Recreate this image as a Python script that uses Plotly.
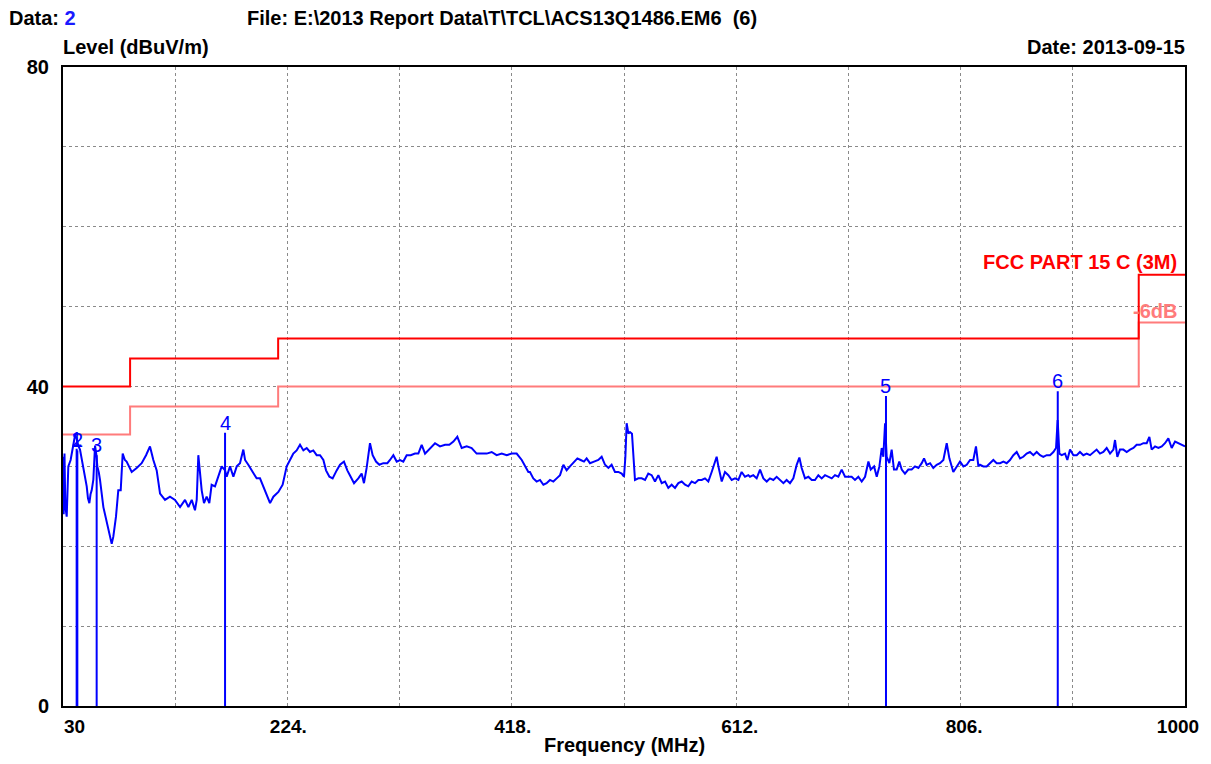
import plotly.graph_objects as go

# ---------------- data ----------------
freq_mhz = [
    30.0, 30.6, 31.3, 32.0, 33.2, 34.6, 36.6, 38.5, 40.4, 41.8, 43.2, 44.7, 46.2, 47.6, 49.0, 50.5,
    51.6, 52.8, 53.8, 54.8, 56.2, 57.7, 58.8, 59.7, 61.0, 62.0, 64.9, 67.8, 70.6, 72.1, 73.5, 75.8,
    77.8, 79.9, 81.6, 83.5, 85.0, 89.4, 93.7, 98.0, 101.8, 105.2, 108.1, 111.0, 113.9, 118.2, 122.5,
    126.8, 131.2, 135.5, 138.4, 141.3, 144.1, 145.6, 147.0, 148.5, 149.9, 151.9, 154.2, 156.5, 158.5,
    161.4, 164.3, 167.2, 170.1, 171.5, 174.4, 177.3, 180.2, 183.0, 185.9, 187.4, 190.2, 193.1, 197.4,
    200.3, 204.7, 209.0, 211.9, 216.2, 219.9, 223.4, 227.7,
    229.1, 232.0, 234.9, 237.8, 240.7, 243.5, 246.4, 249.3, 252.2, 255.1, 257.4, 260.3, 263.1, 266.6,
    269.5, 272.9, 275.8, 278.7, 281.6, 285.3, 288.2, 290.2, 292.5, 295.4, 297.7, 300.6, 303.5, 306.9,
    310.4, 312.7, 315.6, 318.5, 321.4, 324.2, 327.1, 330.6, 334.3, 337.2, 340.1, 343.0, 347.3, 351.6,
    355.9, 360.3, 364.0, 367.5, 370.9, 374.7, 379.0, 383.3, 387.6, 392.0, 396.3, 400.6, 404.9, 409.3,
    413.6, 417.9, 422.2, 426.6, 429.4, 432.3,
    433.7, 436.6, 439.5, 442.4, 445.3, 448.1, 451.0, 453.9, 456.8, 459.7, 462.6, 465.4, 468.3, 471.2,
    474.7, 477.5, 480.4, 482.7, 485.6, 489.1, 492.8, 495.7, 498.6, 501.5, 504.3, 507.2, 510.1, 513.0,
    515.0, 516.2, 517.3, 518.8, 520.2, 521.9, 523.1, 524.5, 527.4, 530.3, 533.2, 536.0, 538.9, 541.8,
    544.7, 547.6, 550.5, 553.3, 556.2, 559.1, 562.0, 564.9, 567.8, 570.6, 573.5, 576.4, 579.3, 582.2,
    585.0, 587.9, 590.8, 593.7, 595.1, 596.6, 599.5, 602.3, 605.2, 608.1, 611.0, 613.9, 616.7, 619.6,
    622.5,
    623.9, 626.8, 629.7, 632.6, 635.5, 638.4, 641.2, 644.1, 647.0, 649.9, 652.8, 655.6, 658.5, 661.4,
    664.3, 666.6, 668.6, 671.5, 674.4, 677.3, 680.1, 683.0, 685.9, 688.8, 691.7, 694.6, 697.4, 700.3,
    703.2, 706.1, 709.0, 711.8, 714.7, 717.6, 720.5, 723.4, 726.3, 728.3, 731.2, 733.5, 735.8, 737.8,
    739.2, 740.7, 742.1, 744.4, 746.4, 748.4, 750.7, 753.0, 755.1, 757.9, 760.8, 763.7, 766.6, 769.5,
    772.4, 774.4, 776.7, 779.6, 782.4, 785.3, 788.2, 791.1, 794.0, 796.3, 799.7, 802.6, 805.5, 808.4,
    811.3, 814.2, 817.0, 819.3, 821.4,
    822.8, 825.7, 828.5, 831.4, 834.3, 837.2, 840.1, 843.0, 845.8, 848.7, 851.6, 854.5, 857.4, 860.2,
    863.1, 866.0, 868.9, 871.8, 874.7, 877.5, 880.4, 883.3, 886.2, 888.5, 889.9, 891.4, 893.4, 896.3,
    898.3, 900.6, 903.5, 906.4, 909.2, 912.1, 915.0, 917.9, 920.8, 923.6, 926.5, 929.4, 932.3, 935.2,
    938.1, 939.5, 941.5, 943.8, 946.7, 949.6, 952.5, 955.4, 958.2, 961.1, 964.0, 966.9, 969.2, 971.2,
    974.1, 977.0, 979.9, 982.7, 985.6, 988.5, 991.4, 994.3, 997.1, 1000.0,
]
level_dbuv = [
    31.2, 24.0, 31.6, 25.0, 23.7, 30.0, 30.8, 32.2, 33.9, 33.5, 32.6, 32.1, 31.0, 30.0, 28.5, 27.5,
    26.0, 25.4, 26.5, 27.0, 28.3, 32.6, 31.5, 30.0, 29.2, 28.3, 24.9, 22.9, 21.2, 20.3, 21.2, 23.7,
    27.0, 27.0, 31.6, 30.8, 30.6, 29.3, 29.8, 30.4, 31.4, 32.5, 30.8, 29.5, 26.6, 25.8, 26.2,
    25.8, 24.9, 25.8, 24.9, 25.8, 24.5, 25.8, 31.4, 29.3, 27.0, 25.4, 26.2, 25.4, 27.7,
    27.5, 28.7, 30.0, 29.5, 28.7, 30.0, 28.7, 30.0, 30.4, 32.1, 30.8, 30.2, 29.5, 28.5,
    28.5, 27.0, 25.4, 26.2, 26.8, 27.7, 30.0, 31.2,
    31.6, 32.0, 32.7, 32.0, 32.3, 31.8, 32.0, 31.4, 31.4, 30.8, 29.5, 28.7, 28.5, 29.5,
    30.2, 30.6, 29.5, 28.7, 27.9, 28.5, 29.1, 27.9, 29.8, 32.9, 31.4, 30.6, 30.2, 30.4,
    30.4, 30.8, 31.4, 30.6, 30.8, 30.6, 31.4, 31.4, 31.6, 31.6, 32.7, 31.6, 32.3, 32.9,
    32.5, 32.7, 32.7, 33.1, 33.7, 32.3, 32.5, 32.3, 31.6, 31.6, 31.6, 31.8, 31.4, 31.6,
    31.4, 31.6, 31.6, 30.8, 30.0, 29.3,
    29.3, 28.5, 28.1, 28.3, 27.7, 27.9, 28.3, 28.1, 28.5, 28.9, 30.2, 29.5, 30.0, 30.4,
    31.0, 30.8, 30.6, 31.0, 30.4, 30.6, 30.8, 31.2, 30.2, 29.8, 30.2, 29.3, 29.3, 29.1,
    28.7, 31.2, 35.4, 34.1, 34.3, 34.1, 31.8, 28.3, 28.5, 28.5, 28.3, 29.1, 28.9, 28.1,
    28.9, 27.9, 28.1, 27.3, 27.7, 27.3, 27.9, 28.1, 27.7, 27.5, 28.1, 27.9, 28.3, 28.3,
    28.5, 28.1, 29.3, 30.8, 31.2, 30.0, 28.1, 29.3, 28.9, 28.3, 28.5, 28.3, 29.3, 28.7,
    28.9,
    28.7, 28.9, 28.5, 29.6, 28.5, 28.1, 28.5, 28.3, 28.7, 28.3, 27.9, 28.3, 27.9, 28.5,
    30.2, 31.1, 29.8, 28.5, 28.7, 28.3, 28.3, 28.9, 28.5, 28.9, 28.7, 28.5, 28.9, 28.7,
    29.6, 28.7, 28.7, 28.7, 28.3, 28.7, 28.1, 28.7, 30.6, 29.6, 30.0, 28.7, 30.0, 32.3,
    31.2, 35.4, 31.2, 30.4, 32.1, 29.6, 29.6, 30.6, 29.6, 29.1, 29.6, 29.6, 30.0, 29.8,
    30.4, 31.0, 30.2, 30.4, 29.8, 30.2, 30.4, 30.8, 32.9, 31.0, 29.3, 30.0, 30.6, 30.0,
    30.2, 30.8, 30.8, 32.5, 30.0,
    30.2, 30.0, 30.0, 30.4, 30.8, 30.4, 30.4, 30.6, 30.4, 30.8, 31.4, 31.8, 31.0, 31.2,
    31.6, 31.8, 31.4, 31.8, 31.4, 31.2, 31.4, 31.4, 31.8, 32.3, 35.8, 31.6, 31.4, 31.6,
    30.8, 32.1, 31.4, 31.4, 31.8, 31.4, 31.6, 31.4, 31.8, 32.1, 31.6, 31.8, 32.3, 31.6,
    32.1, 33.3, 31.2, 32.1, 32.1, 31.8, 32.1, 32.3, 32.7, 32.7, 32.9, 32.9, 33.7, 32.1,
    32.5, 32.3, 32.5, 32.9, 33.5, 32.3, 33.1, 32.9, 32.7, 32.5,
]

limit_freq = [30, 88, 216, 960, 1000]
limit_level = [40.0, 43.5, 46.0, 54.0, 54.0]
margin_db = 6.0

marker_ids = ["1", "2", "3", "4", "5", "6"]
marker_freq = [41.8, 42.4, 59.1, 170.1, 741.5, 890.0]
marker_level = [32.2, 32.0, 31.4, 34.2, 38.8, 39.4]

x_grid = [30, 127, 224, 321, 418, 515, 612, 709, 806, 903, 1000]
x_labels = ["30", "", "224.", "", "418.", "", "612.", "", "806.", "", "1000"]
y_grid = [0, 10, 20, 30, 40, 50, 60, 70, 80]
y_labels = ["0", "", "", "", "40", "", "", "", "80"]

# ---------------- figure ----------------
FONT = "Liberation Sans, Arial, sans-serif"
BLUE = "#0000FF"
RED = "#FF0000"
PINK = "#FF7B7B"

# tick labels are all shifted 7px left (so "1000" ends inside the frame like the
# original); leading no-break spaces push the other labels back to the right
NB = "\u00a0"
label_pad = {"30": 7, "224.": 3, "418.": 3, "612.": 4, "806.": 4, "1000": 0}
x_ticktext = [NB * label_pad.get(t, 0) + t if t else "" for t in x_labels]

fig = go.Figure()

# marker vertical lines
mx, my = [], []
for f, v in zip(marker_freq, marker_level):
    mx += [f, f, None]
    my += [0, v, None]
fig.add_trace(go.Scatter(x=mx, y=my, mode="lines", line=dict(color=BLUE, width=2),
                         hoverinfo="skip", showlegend=False))

# limit lines
fig.add_trace(go.Scatter(x=limit_freq, y=[v - margin_db for v in limit_level], mode="lines",
                         line=dict(color=PINK, width=2, shape="hv"), showlegend=False))
fig.add_trace(go.Scatter(x=limit_freq, y=limit_level, mode="lines",
                         line=dict(color=RED, width=2, shape="hv"), showlegend=False))

# measured trace
fig.add_trace(go.Scatter(x=freq_mhz, y=level_dbuv, mode="lines",
                         line=dict(color=BLUE, width=2), showlegend=False))

# marker labels
for mid, f, v in zip(marker_ids, marker_freq, marker_level):
    fig.add_annotation(x=f, y=v, text=mid, showarrow=False, xanchor="center", yanchor="bottom",
                       yshift=-3, font=dict(family=FONT, size=20, color=BLUE))

# page is rendered with the default 8px body margin, so the figure is 16px
# smaller than the window and everything is laid out in page coordinates
PAGE_MARGIN = 8
W, H = 1211 - 2 * PAGE_MARGIN, 764 - 2 * PAGE_MARGIN
PLOT_L, PLOT_T, PLOT_R, PLOT_B = 63, 67, 1185, 706  # page pixels
L = PLOT_L - PAGE_MARGIN
T = PLOT_T - PAGE_MARGIN
R = W - (PLOT_R - PAGE_MARGIN)
B = H - (PLOT_B - PAGE_MARGIN)
pw, ph = PLOT_R - PLOT_L, PLOT_B - PLOT_T


def px(x):
    return (x - PLOT_L) / pw


def py(y):
    return (PLOT_B - y) / ph


bold = dict(family=FONT, size=20, color="black", weight="bold")
hdr = dict(family=FONT, size=20, color="black", weight="bold")

fig.add_annotation(xref="paper", yref="paper", x=px(8), y=py(18), xanchor="left", yanchor="middle",
                   text="Data: <span style='color:#1a1aff'>2</span>", showarrow=False, font=hdr,
                   borderpad=0)
fig.add_annotation(xref="paper", yref="paper", x=px(246), y=py(18), xanchor="left", yanchor="middle",
                   text="File: E:\\2013 Report Data\\T\\TCL\\ACS13Q1486.EM6 \u00a0(6)",
                   showarrow=False, font=hdr, borderpad=0)
fig.add_annotation(xref="paper", yref="paper", x=px(61), y=py(47), xanchor="left", yanchor="middle",
                   text="Level (dBuV/m)", showarrow=False, font=bold)
fig.add_annotation(xref="paper", yref="paper", x=px(1187), y=py(47), xanchor="right", yanchor="middle",
                   text="Date: 2013-09-15", showarrow=False, font=bold)
fig.add_annotation(xref="paper", yref="paper", x=px(624), y=py(745), xanchor="center", yanchor="middle",
                   text="Frequency (MHz)", showarrow=False, font=bold)
fig.add_annotation(xref="paper", yref="paper", x=px(1179), y=py(262), xanchor="right", yanchor="middle",
                   text="FCC PART 15 C (3M)", showarrow=False,
                   font=dict(family=FONT, size=20, color=RED, weight="bold"))
fig.add_annotation(xref="paper", yref="paper", x=px(1179), y=py(311), xanchor="right", yanchor="middle",
                   text="-6dB", showarrow=False,
                   font=dict(family=FONT, size=20, color=PINK, weight="bold"))

fig.update_xaxes(range=[30, 1000], tickmode="array", tickvals=x_grid, ticktext=x_ticktext,
                 showgrid=True, gridcolor="#8a8a8a", griddash="dot", gridwidth=1,
                 zeroline=False, showline=True, mirror=True, linecolor="black", linewidth=2,
                 ticks="", ticklabelstandoff=2, ticklabelshift=-7,
                 ticklabeloverflow="allow", automargin=False,
                 tickfont=dict(family=FONT, size=19, color="black", weight="bold"))
fig.update_yaxes(range=[0, 80], tickmode="array", tickvals=y_grid, ticktext=y_labels,
                 showgrid=True, gridcolor="#8a8a8a", griddash="dot", gridwidth=1,
                 zeroline=False, showline=True, mirror=True, linecolor="black", linewidth=2,
                 ticks="", ticklabelstandoff=8, ticklabeloverflow="allow", automargin=False,
                 tickfont=dict(family=FONT, size=20, color="black", weight="bold"))

fig.update_layout(width=W, height=H, margin=dict(l=L, r=R, t=T, b=B, autoexpand=False),
                  paper_bgcolor="white", plot_bgcolor="white", showlegend=False)

fig.write_html("out.html", config={"displayModeBar": False})
